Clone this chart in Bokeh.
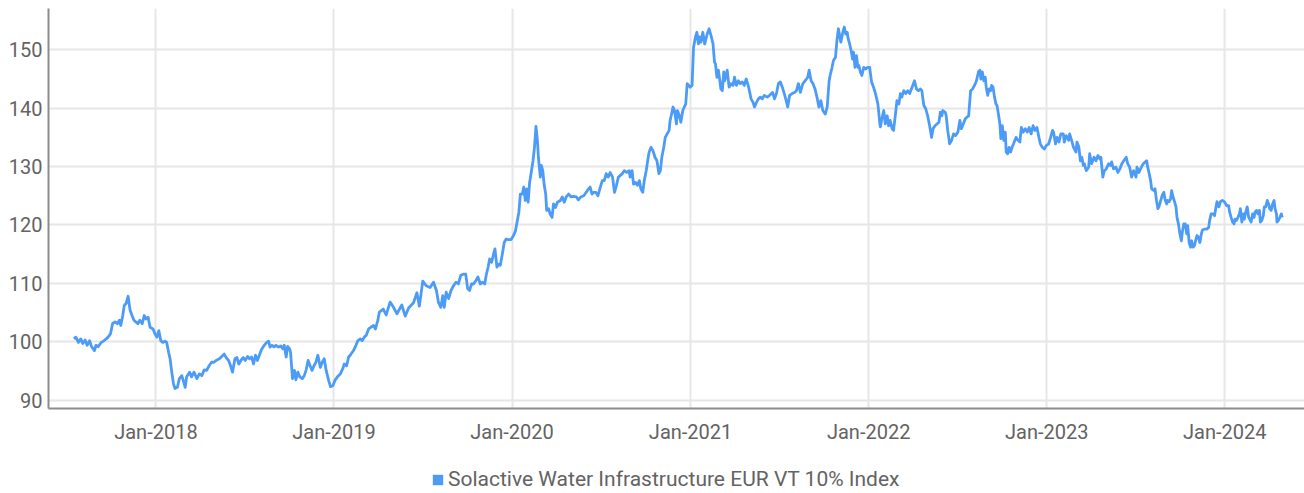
import pandas as pd
from bokeh.plotting import figure
from bokeh.layouts import column
from bokeh.models import Range1d, FixedTicker, Legend, LegendItem
from bokeh.embed import file_html
from bokeh.resources import INLINE

series_name = "Solactive Water Infrastructure EUR VT 10% Index"

dates = [
    # 2017
    "2017-07-17", "2017-07-21", "2017-07-26", "2017-07-31", "2017-08-04", "2017-08-09", "2017-08-13", "2017-08-18",
    "2017-08-22", "2017-08-28", "2017-08-31", "2017-09-05", "2017-09-10", "2017-09-15", "2017-09-21", "2017-09-25",
    "2017-09-30", "2017-10-04", "2017-10-09", "2017-10-14", "2017-10-18", "2017-10-21", "2017-10-25", "2017-10-28",
    "2017-11-01", "2017-11-05", "2017-11-09", "2017-11-13", "2017-11-17", "2017-11-21", "2017-11-25", "2017-11-29",
    "2017-12-04", "2017-12-08", "2017-12-12", "2017-12-16", "2017-12-20", "2017-12-26", "2017-12-30",
    # 2018
    "2018-01-03", "2018-01-07", "2018-01-11", "2018-01-15", "2018-01-20", "2018-01-23", "2018-01-27", "2018-01-30",
    "2018-02-02", "2018-02-06", "2018-02-09", "2018-02-14", "2018-02-18", "2018-02-23", "2018-02-26", "2018-03-02",
    "2018-03-05", "2018-03-11", "2018-03-15", "2018-03-20", "2018-03-26", "2018-03-31", "2018-04-05", "2018-04-10",
    "2018-04-15", "2018-04-20", "2018-04-25", "2018-04-30", "2018-05-06", "2018-05-11", "2018-05-16", "2018-05-21",
    "2018-05-25", "2018-05-30", "2018-06-03", "2018-06-07", "2018-06-12", "2018-06-16", "2018-06-20", "2018-06-24",
    "2018-06-29", "2018-07-03", "2018-07-08", "2018-07-12", "2018-07-16", "2018-07-20", "2018-07-24", "2018-07-28",
    "2018-08-01", "2018-08-05", "2018-08-11", "2018-08-16", "2018-08-20", "2018-08-23", "2018-08-27", "2018-08-31",
    "2018-09-04", "2018-09-09", "2018-09-14", "2018-09-18", "2018-09-21", "2018-09-25", "2018-09-28", "2018-10-02",
    "2018-10-04", "2018-10-08", "2018-10-12", "2018-10-15", "2018-10-19", "2018-10-23", "2018-10-28", "2018-11-01",
    "2018-11-05", "2018-11-09", "2018-11-13", "2018-11-17", "2018-11-21", "2018-11-25", "2018-11-29", "2018-12-04",
    "2018-12-08", "2018-12-12", "2018-12-16", "2018-12-21", "2018-12-25", "2018-12-30",
    # 2019
    "2019-01-03", "2019-01-08", "2019-01-14", "2019-01-19", "2019-01-22", "2019-01-27", "2019-01-31", "2019-02-05",
    "2019-02-10", "2019-02-15", "2019-02-19", "2019-02-24", "2019-02-28", "2019-03-04", "2019-03-08", "2019-03-13",
    "2019-03-18", "2019-03-23", "2019-03-27", "2019-04-01", "2019-04-04", "2019-04-12", "2019-04-18", "2019-04-26",
    "2019-05-03", "2019-05-10", "2019-05-20", "2019-05-27", "2019-06-03", "2019-06-13", "2019-06-20", "2019-06-25",
    "2019-07-02", "2019-07-09", "2019-07-17", "2019-07-24", "2019-07-30", "2019-08-03", "2019-08-08", "2019-08-12",
    "2019-08-15", "2019-08-19", "2019-08-24", "2019-08-29", "2019-09-03", "2019-09-08", "2019-09-13", "2019-09-18",
    "2019-09-24", "2019-09-28", "2019-10-02", "2019-10-06", "2019-10-10", "2019-10-14", "2019-10-19", "2019-10-23",
    "2019-10-28", "2019-11-01", "2019-11-06", "2019-11-09", "2019-11-13", "2019-11-16", "2019-11-20", "2019-11-24",
    "2019-11-27", "2019-12-01", "2019-12-04", "2019-12-08", "2019-12-12", "2019-12-16", "2019-12-20", "2019-12-25",
    "2019-12-30",
    # 2020
    "2020-01-04", "2020-01-08", "2020-01-12", "2020-01-15", "2020-01-18", "2020-01-22", "2020-01-25", "2020-01-28",
    "2020-01-31", "2020-02-03", "2020-02-06", "2020-02-09", "2020-02-13", "2020-02-16", "2020-02-19", "2020-02-22",
    "2020-02-24", "2020-02-28", "2020-03-01", "2020-03-04", "2020-03-07", "2020-03-10", "2020-03-12", "2020-03-16",
    "2020-03-19", "2020-03-23", "2020-03-26", "2020-03-30", "2020-04-03", "2020-04-09", "2020-04-13", "2020-04-17",
    "2020-04-21", "2020-04-26", "2020-05-01", "2020-05-06", "2020-05-12", "2020-05-16", "2020-05-21", "2020-05-27",
    "2020-06-01", "2020-06-06", "2020-06-09", "2020-06-13", "2020-06-16", "2020-06-21", "2020-06-25", "2020-06-30",
    "2020-07-04", "2020-07-08", "2020-07-12", "2020-07-16", "2020-07-20", "2020-07-25", "2020-07-29", "2020-08-02",
    "2020-08-06", "2020-08-10", "2020-08-14", "2020-08-18", "2020-08-23", "2020-08-28", "2020-08-30", "2020-09-03",
    "2020-09-06", "2020-09-10", "2020-09-14", "2020-09-18", "2020-09-21", "2020-09-25", "2020-09-28", "2020-10-02",
    "2020-10-05", "2020-10-08", "2020-10-12", "2020-10-16", "2020-10-20", "2020-10-24", "2020-10-28", "2020-10-31",
    "2020-11-03", "2020-11-07", "2020-11-10", "2020-11-14", "2020-11-18", "2020-11-20", "2020-11-23", "2020-11-26",
    "2020-11-29", "2020-12-03", "2020-12-05", "2020-12-09", "2020-12-12", "2020-12-16", "2020-12-19", "2020-12-22",
    "2020-12-25", "2020-12-28", "2020-12-31",
    # 2021
    "2021-01-04", "2021-01-07", "2021-01-11", "2021-01-14", "2021-01-17", "2021-01-19", "2021-01-22", "2021-01-26",
    "2021-01-30", "2021-02-04", "2021-02-08", "2021-02-12", "2021-02-16", "2021-02-19", "2021-02-21", "2021-02-24",
    "2021-02-27", "2021-03-02", "2021-03-04", "2021-03-07", "2021-03-10", "2021-03-12", "2021-03-17", "2021-03-21",
    "2021-03-25", "2021-03-29", "2021-04-01", "2021-04-05", "2021-04-09", "2021-04-13", "2021-04-17", "2021-04-21",
    "2021-04-25", "2021-04-30", "2021-05-05", "2021-05-09", "2021-05-12", "2021-05-16", "2021-05-20", "2021-05-24",
    "2021-05-28", "2021-06-01", "2021-06-07", "2021-06-12", "2021-06-18", "2021-06-22", "2021-06-26", "2021-06-30",
    "2021-07-04", "2021-07-08", "2021-07-12", "2021-07-16", "2021-07-19", "2021-07-23", "2021-07-28", "2021-08-02",
    "2021-08-06", "2021-08-10", "2021-08-14", "2021-08-19", "2021-08-24", "2021-08-29", "2021-09-01", "2021-09-05",
    "2021-09-09", "2021-09-13", "2021-09-17", "2021-09-21", "2021-09-25", "2021-09-29", "2021-10-04", "2021-10-08",
    "2021-10-12", "2021-10-14", "2021-10-18", "2021-10-21", "2021-10-25", "2021-10-28", "2021-10-31", "2021-11-03",
    "2021-11-05", "2021-11-09", "2021-11-12", "2021-11-15", "2021-11-18", "2021-11-20", "2021-11-23", "2021-11-26",
    "2021-11-29", "2021-12-01", "2021-12-04", "2021-12-07", "2021-12-10", "2021-12-12", "2021-12-15", "2021-12-18",
    "2021-12-22", "2021-12-26", "2021-12-30",
    # 2022
    "2022-01-03", "2022-01-07", "2022-01-11", "2022-01-15", "2022-01-20", "2022-01-24", "2022-01-25", "2022-01-28",
    "2022-02-01", "2022-02-04", "2022-02-08", "2022-02-11", "2022-02-14", "2022-02-18", "2022-02-21", "2022-02-25",
    "2022-02-28", "2022-03-04", "2022-03-07", "2022-03-10", "2022-03-14", "2022-03-18", "2022-03-22", "2022-03-26",
    "2022-03-31", "2022-04-05", "2022-04-09", "2022-04-13", "2022-04-17", "2022-04-20", "2022-04-24", "2022-04-28",
    "2022-05-02", "2022-05-06", "2022-05-10", "2022-05-13", "2022-05-17", "2022-05-21", "2022-05-25", "2022-05-28",
    "2022-05-31", "2022-06-02", "2022-06-07", "2022-06-09", "2022-06-12", "2022-06-16", "2022-06-20", "2022-06-24",
    "2022-06-28", "2022-07-03", "2022-07-07", "2022-07-10", "2022-07-14", "2022-07-18", "2022-07-22", "2022-07-25",
    "2022-07-29", "2022-08-02", "2022-08-06", "2022-08-10", "2022-08-14", "2022-08-17", "2022-08-19", "2022-08-22",
    "2022-08-25", "2022-08-28", "2022-08-30", "2022-09-02", "2022-09-05", "2022-09-08", "2022-09-10", "2022-09-13",
    "2022-09-16", "2022-09-19", "2022-09-21", "2022-09-24", "2022-09-27", "2022-09-29", "2022-10-02", "2022-10-05",
    "2022-10-08", "2022-10-10", "2022-10-13", "2022-10-16", "2022-10-19", "2022-10-22", "2022-10-25", "2022-10-30",
    "2022-11-03", "2022-11-07", "2022-11-10", "2022-11-14", "2022-11-18", "2022-11-22", "2022-11-26", "2022-11-30",
    "2022-12-04", "2022-12-08", "2022-12-12", "2022-12-16", "2022-12-19", "2022-12-23", "2022-12-27", "2022-12-31",
    # 2023
    "2023-01-05", "2023-01-09", "2023-01-13", "2023-01-15", "2023-01-19", "2023-01-22", "2023-01-26", "2023-01-30",
    "2023-02-04", "2023-02-06", "2023-02-10", "2023-02-15", "2023-02-17", "2023-02-21", "2023-02-25", "2023-03-02",
    "2023-03-04", "2023-03-08", "2023-03-11", "2023-03-14", "2023-03-17", "2023-03-19", "2023-03-23", "2023-03-28",
    "2023-03-30", "2023-04-03", "2023-04-08", "2023-04-12", "2023-04-16", "2023-04-20", "2023-04-22", "2023-04-26",
    "2023-04-29", "2023-05-03", "2023-05-08", "2023-05-12", "2023-05-14", "2023-05-18", "2023-05-23", "2023-05-27",
    "2023-05-31", "2023-06-04", "2023-06-08", "2023-06-13", "2023-06-16", "2023-06-20", "2023-06-24", "2023-06-28",
    "2023-07-03", "2023-07-05", "2023-07-09", "2023-07-14", "2023-07-18", "2023-07-22", "2023-07-25", "2023-07-27",
    "2023-07-30", "2023-08-02", "2023-08-04", "2023-08-09", "2023-08-11", "2023-08-14", "2023-08-17", "2023-08-19",
    "2023-08-22", "2023-08-26", "2023-08-29", "2023-09-01", "2023-09-04", "2023-09-06", "2023-09-09", "2023-09-12",
    "2023-09-14", "2023-09-17", "2023-09-20", "2023-09-23", "2023-09-25", "2023-09-28", "2023-10-01", "2023-10-04",
    "2023-10-06", "2023-10-09", "2023-10-12", "2023-10-15", "2023-10-17", "2023-10-20", "2023-10-23", "2023-10-25",
    "2023-10-28", "2023-10-31", "2023-11-03", "2023-11-05", "2023-11-08", "2023-11-11", "2023-11-14", "2023-11-16",
    "2023-11-20", "2023-11-25", "2023-11-29", "2023-12-01", "2023-12-04", "2023-12-08", "2023-12-11", "2023-12-14",
    "2023-12-16", "2023-12-20", "2023-12-23", "2023-12-27", "2023-12-31",
    # 2024
    "2024-01-05", "2024-01-09", "2024-01-11", "2024-01-14", "2024-01-17", "2024-01-20", "2024-01-22", "2024-01-25",
    "2024-01-28", "2024-01-31", "2024-02-02", "2024-02-05", "2024-02-08", "2024-02-10", "2024-02-13", "2024-02-16",
    "2024-02-19", "2024-02-21", "2024-02-24", "2024-02-27", "2024-03-01", "2024-03-03", "2024-03-06", "2024-03-09",
    "2024-03-12", "2024-03-14", "2024-03-17", "2024-03-20", "2024-03-22", "2024-03-25", "2024-03-28", "2024-03-31",
    "2024-04-02", "2024-04-05", "2024-04-08", "2024-04-11", "2024-04-13", "2024-04-16", "2024-04-17", "2024-04-20",
    "2024-04-23", "2024-04-26", "2024-04-28",
]

values = [
    # 2017
    100.5, 100.8, 99.9, 100.5, 99.7, 100.3, 99.4, 100.2,
    99.2, 98.5, 99.4, 99.2, 99.8, 100.1, 100.5, 100.8,
    101.4, 103.1, 103.4, 103.1, 103.7, 102.8, 104.5, 106.2,
    106.6, 107.8, 105.4, 104.5, 103.7, 103.4, 103.1, 103.7,
    103.1, 104.5, 103.9, 104.2, 102.5, 102.2, 101.4,
    # 2018
    100.8, 101.9, 100.2, 99.9, 100.1, 99.9, 98.2, 97.1,
    95.1, 92.8, 92.0, 92.2, 93.7, 94.2, 93.4, 92.2,
    94.0, 94.8, 94.0, 94.8, 93.7, 94.5, 94.2, 95.2,
    95.1, 95.9, 96.5, 96.5, 96.9, 97.1, 97.5, 97.9,
    97.3, 96.8, 95.9, 94.8, 97.1, 97.3, 96.2, 96.8,
    97.3, 96.8, 97.5, 97.1, 97.4, 96.2, 97.7, 96.8,
    97.7, 98.6, 99.4, 99.9, 100.1, 99.1, 99.4, 99.1,
    99.4, 99.1, 99.3, 98.8, 99.4, 97.4, 99.2, 98.8,
    98.2, 93.7, 95.1, 93.5, 94.8, 94.0, 93.7, 94.2,
    95.2, 96.8, 95.9, 95.1, 95.9, 96.5, 97.7, 95.6,
    96.5, 97.1, 95.1, 93.4, 92.3, 92.5,
    # 2019
    93.4, 94.0, 94.5, 95.4, 96.2, 95.9, 97.4, 97.9,
    98.5, 99.4, 100.2, 100.5, 100.2, 100.8, 101.1, 102.2,
    102.5, 102.8, 102.2, 103.7, 105.1, 105.6, 104.6, 106.8,
    105.9, 104.8, 106.3, 104.4, 105.8, 106.7, 108.4, 106.1,
    110.4, 109.6, 109.3, 110.2, 108.8, 106.8, 105.9, 107.9,
    105.9, 108.5, 107.4, 108.8, 109.6, 110.2, 109.9, 111.4,
    111.6, 111.6, 109.1, 108.8, 109.9, 109.9, 110.5, 111.1,
    109.9, 110.2, 109.9, 111.4, 112.8, 114.2, 113.6, 115.0,
    115.9, 112.8, 113.3, 113.1, 115.0, 117.0, 117.6, 117.5,
    117.5,
    # 2020
    118.2, 119.0, 120.8, 122.2, 125.3, 125.3, 126.5, 124.2,
    126.2, 123.9, 127.3, 128.8, 131.0, 133.3, 136.9, 134.5,
    131.6, 128.2, 130.2, 129.3, 126.8, 125.3, 122.5, 122.8,
    121.9, 121.3, 123.6, 123.0, 123.9, 124.2, 124.8, 123.9,
    124.8, 125.3, 124.8, 124.9, 124.8, 124.3, 124.8, 125.0,
    125.6, 126.2, 126.5, 125.3, 125.6, 125.6, 125.0, 126.5,
    127.6, 127.6, 128.8, 128.2, 129.0, 128.2, 125.6, 126.8,
    128.2, 128.5, 128.8, 129.3, 129.0, 129.3, 128.2, 129.3,
    127.0, 127.3, 126.8, 127.6, 126.2, 125.6, 127.6, 129.3,
    131.0, 132.5, 133.3, 132.7, 131.6, 131.0, 128.8, 129.3,
    131.6, 133.3, 135.0, 135.6, 136.2, 137.9, 139.0, 140.2,
    139.6, 137.3, 139.6, 138.7, 137.6, 139.6, 140.2, 140.7,
    144.2, 143.9, 143.6,
    # 2021
    143.9, 150.4, 152.2, 153.0, 151.0, 152.2, 151.3, 153.0,
    151.0, 152.7, 153.6, 152.4, 151.0, 147.9, 147.6, 145.3,
    146.5, 144.7, 143.3, 143.0, 146.2, 144.7, 146.5, 143.6,
    144.2, 143.9, 145.3, 143.9, 144.7, 144.2, 144.5, 143.9,
    145.0, 143.6, 141.6, 141.0, 140.2, 141.0, 141.6, 141.9,
    141.6, 142.2, 141.9, 142.2, 142.7, 141.6, 142.5, 144.2,
    144.5, 143.6, 142.5, 141.3, 140.2, 142.2, 142.5, 142.7,
    143.0, 144.2, 142.7, 144.2, 144.7, 145.3, 146.5, 144.7,
    144.2, 143.3, 141.9, 140.2, 141.3, 139.6, 139.0, 140.2,
    144.7, 145.6, 147.0, 148.2, 148.7, 151.6, 153.6, 152.2,
    151.3, 153.0, 153.9, 152.7, 153.0, 151.9, 151.0, 149.9,
    148.4, 149.6, 147.0, 149.0, 147.0, 147.3, 146.2, 145.6,
    147.0, 146.7, 147.0,
    # 2022
    147.0, 144.5, 143.6, 142.5, 140.7, 137.3, 136.8, 138.2,
    139.6, 137.3, 138.7, 137.0, 137.9, 136.5, 136.2, 139.0,
    141.3, 140.7, 142.5, 141.9, 143.0, 142.5, 143.0, 142.5,
    143.6, 144.7, 143.3, 143.0, 143.3, 143.0, 140.5, 139.9,
    138.7, 137.0, 135.0, 136.5, 137.0, 137.3, 137.6, 139.3,
    138.7, 139.6, 139.3, 138.7, 136.2, 133.9, 134.5, 135.6,
    135.3, 135.9, 137.9, 136.5, 137.3, 138.2, 138.5, 138.7,
    143.0, 143.3, 143.9, 144.7, 146.2, 146.5, 145.0, 146.2,
    144.7, 145.3, 143.6, 142.2, 143.3, 143.0, 143.9, 143.6,
    141.9, 140.7, 140.5, 139.0, 137.3, 134.8, 137.0, 134.5,
    135.9, 132.5, 132.2, 133.3, 132.5, 133.3, 133.9, 135.0,
    134.5, 134.2, 136.7, 135.9, 136.5, 135.9, 136.7, 135.6,
    137.0, 136.2, 136.7, 135.0, 133.9, 133.3, 133.0, 133.6,
    # 2023
    133.9, 135.0, 136.2, 135.9, 133.9, 135.0, 134.2, 135.6,
    135.6, 134.2, 135.3, 134.5, 135.6, 134.5, 133.3, 132.5,
    134.2, 133.3, 131.0, 131.6, 130.2, 130.5, 129.3, 129.9,
    132.2, 130.5, 131.6, 131.0, 131.9, 131.3, 131.6, 128.2,
    129.3, 129.6, 130.5, 130.2, 130.8, 129.6, 129.9, 129.0,
    129.6, 130.5, 131.0, 131.6, 130.5, 129.9, 128.2, 129.3,
    128.2, 129.9, 129.0, 129.9, 130.5, 130.8, 131.0, 129.9,
    128.8, 127.6, 126.2, 125.9, 126.2, 124.2, 122.8, 123.1,
    124.0, 125.1, 125.6, 124.2, 123.6, 124.2, 124.0, 124.5,
    125.9, 124.8, 124.0, 123.1, 121.3, 120.2, 118.5, 117.3,
    118.8, 120.2, 120.2, 118.5, 119.9, 117.0, 116.2, 117.3,
    116.2, 116.5, 117.6, 118.2, 117.9, 117.0, 118.5, 119.1,
    119.3, 119.3, 119.6, 120.8, 121.9, 121.9, 121.6, 123.1,
    124.0, 123.1, 124.0, 124.2, 124.0,
    # 2024
    123.3, 123.3, 122.2, 121.3, 120.5, 120.2, 121.0, 120.8,
    121.3, 121.9, 122.8, 120.5, 121.9, 121.0, 122.2, 123.1,
    121.3, 121.0, 120.5, 121.9, 121.3, 122.2, 122.5, 121.9,
    122.5, 120.5, 120.8, 121.6, 123.1, 123.1, 124.2, 123.6,
    122.8, 122.5, 123.6, 124.2, 122.8, 121.9, 120.5, 120.8,
    121.3, 121.9, 121.3,
]

x_tick_dates = ["2018-01-01", "2019-01-01", "2020-01-01", "2021-01-01",
                "2022-01-01", "2023-01-01", "2024-01-01"]
x_tick_labels = ["Jan-2018", "Jan-2019", "Jan-2020", "Jan-2021",
                 "Jan-2022", "Jan-2023", "Jan-2024"]
y_ticks = [90, 100, 110, 120, 130, 140, 150]

assert len(dates) == len(values), (len(dates), len(values))

FONT = "Roboto"
TEXT_COLOR = "#636363"
LINE_COLOR = "#4c9bf7"
GRID_COLOR = "#e6e6e6"
AXIS_COLOR = "#8c8c8c"

x = pd.to_datetime(dates)
x_ticks_ms = [float(pd.Timestamp(d).value // 10**6) for d in x_tick_dates]

# ---------------- main chart ----------------
p = figure(
    width=1304, height=464,
    x_axis_type="datetime",
    x_range=Range1d(pd.Timestamp("2017-05-25 19:00").to_pydatetime(),
                    pd.Timestamp("2024-06-12 10:00").to_pydatetime()),
    y_range=Range1d(88.58, 157.07),
    output_backend="svg", toolbar_location=None,
    min_border_left=48, min_border_right=0, min_border_top=8, min_border_bottom=56,
)
p.outline_line_color = None

p.line(x, values, line_width=2.8, line_color=LINE_COLOR, line_join="round")

p.xaxis.ticker = FixedTicker(ticks=x_ticks_ms)
p.xaxis.major_label_overrides = {t: lab for t, lab in zip(x_ticks_ms, x_tick_labels)}
p.yaxis.ticker = FixedTicker(ticks=y_ticks)
for ax in (p.xaxis, p.yaxis):
    ax.axis_line_color = AXIS_COLOR
    ax.axis_line_width = 2
    ax.major_tick_out = 0
    ax.major_tick_in = 0
    ax.minor_tick_out = 0
    ax.minor_tick_in = 0
    ax.major_label_text_font = FONT
    ax.major_label_text_font_size = "20px"
    ax.major_label_text_color = TEXT_COLOR
p.yaxis.major_label_standoff = 6
p.xaxis.major_label_standoff = 11

p.xgrid.grid_line_color = GRID_COLOR
p.xgrid.grid_line_width = 2
p.ygrid.grid_line_color = GRID_COLOR
p.ygrid.grid_line_width = 2

# ---------------- legend strip ----------------
leg = figure(
    width=1304, height=29,
    x_range=Range1d(0, 1), y_range=Range1d(0, 1),
    x_axis_location=None, y_axis_location=None,
    output_backend="svg", toolbar_location=None,
    min_border_left=48, min_border_right=0, min_border_top=0, min_border_bottom=0,
)
leg.outline_line_color = None
leg.grid.visible = False
# degenerate (zero-area) quad: only its legend swatch is visible
swatch = leg.quad(left=[0], right=[0], top=[0], bottom=[0], fill_color=LINE_COLOR, line_color=None)
legend = Legend(
    items=[LegendItem(label=series_name, renderers=[swatch])],
    location=(383, 2), orientation="horizontal",
    border_line_color=None, background_fill_alpha=0,
    glyph_width=13, glyph_height=13, label_standoff=4,
    label_text_font=FONT, label_text_font_size="21px", label_text_color=TEXT_COLOR,
    padding=0, margin=0, spacing=0,
)
leg.add_layout(legend, "center")

layout = column(p, leg, spacing=0)
open("out.html", "w").write(file_html(layout, INLINE))
